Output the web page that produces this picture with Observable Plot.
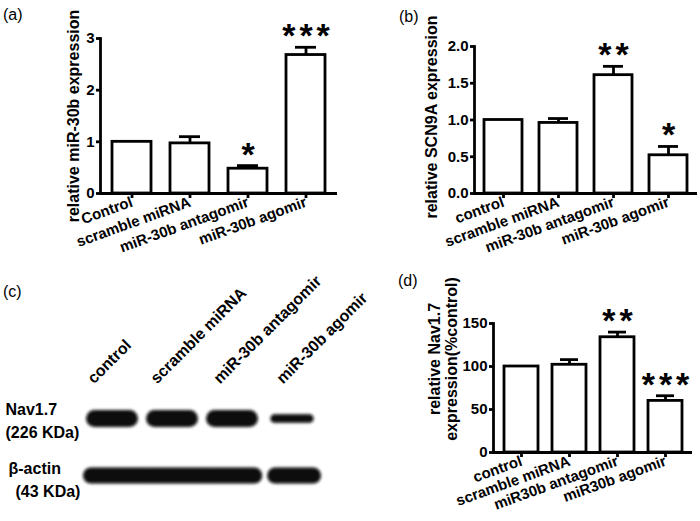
<!DOCTYPE html>
<html><head><meta charset="utf-8">
<script src="https://cdn.jsdelivr.net/npm/d3@7"></script>
<script src="https://cdn.jsdelivr.net/npm/@observablehq/plot@0.6"></script>
<style>
body{margin:0;background:#fff;}
#fig{position:relative;width:700px;height:521px;overflow:hidden;font-family:"Liberation Sans",Arial,sans-serif;background:#fff;}
.panel{position:absolute;}
.tag{position:absolute;font-size:16px;line-height:1;font-family:"Liberation Sans",Arial,sans-serif;}
</style></head><body><div id="fig"></div>
<script>
// Panel (a)
const catsA = ["Control","scramble miRNA","miR-30b antagomir","miR-30b agomir"];
const meanA = [1.00, 0.97, 0.48, 2.68];
const semA  = [0, 0.13, 0.06, 0.15];
const starsA = ["", "", "*", "***"];
const ticksA = [0, 1, 2, 3];
// Panel (b)
const catsB = ["control","scramble miRNA","miR-30b antagomir","miR-30b agomir"];
const meanB = [1.00, 0.96, 1.61, 0.52];
const semB  = [0, 0.06, 0.12, 0.12];
const starsB = ["", "", "**", "*"];
const ticksB = [0, 0.5, 1.0, 1.5, 2.0];
// Panel (d)
const catsD = ["control","scramble miRNA","miR30b antagomir","miR30b agomir"];
const meanD = [100, 102, 134, 60];
const semD  = [0, 6, 6, 6];
const starsD = ["", "", "**", "***"];
const ticksD = [0, 50, 100, 150];
// Panel (c) western blot
const lanesC = ["control","scramble miRNA","miR-30b antagomir","miR-30b agomir"];
const proteins = ["Nav1.7","β-actin"];
const navIntensity = [1.0, 1.0, 1.0, 0.5];
const actinIntensity = [1.0, 1.0, 1.0, 1.0];

const fig = document.getElementById("fig");
const svgStyle = {fontFamily:'"Liberation Sans", Arial, sans-serif', fontSize:"15px", fontWeight:"bold", overflow:"visible", background:"transparent"};
const SW = 2.8;

function place(el, left, top){ el.classList.add("panel"); el.style.left = left+"px"; el.style.top = top+"px"; fig.appendChild(el); }

function barPanel(o){
  const data = o.cats.map((c,i)=>({c, m:o.mean[i], e:o.mean[i]+o.sem[i], s:o.stars[i], err:o.sem[i]>0}));
  const svg = Plot.plot({
    width:o.width, height:o.height,
    marginLeft:o.ml, marginRight:o.mr, marginTop:o.mt, marginBottom:o.mb,
    style:svgStyle,
    x:{type:"band", domain:o.cats, paddingInner:o.pi, paddingOuter:o.po, axis:null},
    y:{domain:[0,o.ticks[o.ticks.length-1]], axis:null},
    marks:[
      Plot.barY(data,{x:"c", y:"m", fill:"white", stroke:"black", strokeWidth:SW}),
      Plot.ruleX(data.filter(d=>d.err),{x:"c", y1:"m", y2:"e", stroke:"black", strokeWidth:SW}),
      Plot.tickY(data.filter(d=>d.err),{x:"c", y:"e", stroke:"black", strokeWidth:SW, insetLeft:o.cap, insetRight:o.cap}),
      Plot.text(data.filter(d=>d.s),{x:"c", y:"e", text:"s", fontSize:34, lineAnchor:"bottom", dy:0, dx:2}),
      Plot.frame({anchor:"left", stroke:"black", strokeWidth:SW}),
      Plot.ruleY([0],{stroke:"black", strokeWidth:SW}),
      Plot.axisY({ticks:o.ticks, tickFormat:o.fmt, tickSize:4, tickPadding:2, strokeWidth:SW, label:null}),
      Plot.axisX({tickSize:5, tickRotate:-20, strokeWidth:SW, tickPadding:3, label:null}),
      Plot.text([o.title],{frameAnchor:"left", rotate:-90, textAnchor:"middle", lineAnchor:"middle", dx:o.tdx, dy:o.tdy, fontSize:16, lineHeight:1.06})
    ]
  });
  svg.querySelectorAll('g[font-size="34"] text').forEach(t=>{ t.style.letterSpacing = "4px"; });
  return svg;
}

place(barPanel({cats:catsA, mean:meanA, sem:semA, stars:starsA, ticks:ticksA, fmt:d3.format("d"),
  width:350, height:270, ml:100, mr:13, mt:38, mb:77, pi:0.32, po:0.18, cap:9,
  title:"relative miR-30b expression", tdx:-27, tdy:0}), 0, 0);

place(barPanel({cats:catsB, mean:meanB, sem:semB, stars:starsB, ticks:ticksB, fmt:d3.format(".1f"),
  width:350, height:270, ml:124, mr:3, mt:46, mb:77, pi:0.31, po:0.18, cap:9,
  title:"relative SCN9A expression", tdx:-43, tdy:-3}), 350, 0);

place(barPanel({cats:catsD, mean:meanD, sem:semD, stars:starsD, ticks:ticksD, fmt:d3.format("d"),
  width:350, height:251, ml:143, mr:8, mt:53, mb:69, pi:0.30, po:0.20, cap:8,
  title:"relative Nav1.7\nexpression(%control)", tdx:-50, tdy:-29}), 350, 270);

// Western blot panel
const nav = lanesC.map((n,i)=>({lane:i, p:proteins[0], v:navIntensity[i]}));
const actin = lanesC.map((n,i)=>({lane:i, p:proteins[1], v:actinIntensity[i]}));
const labels = lanesC.map((n,i)=>({lane:i, n}));
const blot = Plot.plot({
  width:350, height:251, marginLeft:5, marginRight:25, marginTop:148, marginBottom:46,
  style:svgStyle,
  x:{type:"linear", domain:[0,4], range:[85,325], axis:null},
  y:{type:"point", domain:proteins, padding:0, axis:null},
  marks:[
    Plot.ruleY(nav,{y:"p", x1:d=>d.lane+0.16, x2:d=>d.lane+0.74, strokeWidth:d=>17*d.v, stroke:"#080808", strokeLinecap:"round"}),
    Plot.ruleY(actin,{y:"p", x1:d=>d.lane+(d.lane<3?0.1:0.17), x2:d=>d.lane+(d.lane<2?1.05:(d.lane===2?0.82:0.8)), strokeWidth:d=>16*d.v, stroke:"#080808", strokeLinecap:"round"}),
    Plot.text(labels,{x:d=>d.lane*1.05+0.14, frameAnchor:"top", dy:-34, rotate:-45, textAnchor:"start", lineAnchor:"bottom", text:"n", fontSize:16}),
    Plot.text([proteins[0]],{y:d=>d, frameAnchor:"left", textAnchor:"start", dy:-9, fontSize:16}),
    Plot.text(["(226 KDa)"],{y:()=>proteins[0], frameAnchor:"left", textAnchor:"start", dy:14, fontSize:16}),
    Plot.text([proteins[1]],{y:d=>d, frameAnchor:"left", textAnchor:"start", dx:3, dy:-7, fontSize:16}),
    Plot.text(["(43 KDa)"],{y:()=>proteins[1], frameAnchor:"left", textAnchor:"start", dx:10, dy:16, fontSize:16})
  ]
});
(function(){
  const ns = "http://www.w3.org/2000/svg";
  const defs = document.createElementNS(ns, "defs");
  const f = document.createElementNS(ns, "filter");
  f.setAttribute("id", "blotBlur"); f.setAttribute("filterUnits", "userSpaceOnUse");
  f.setAttribute("x", "0"); f.setAttribute("y", "0"); f.setAttribute("width", "350"); f.setAttribute("height", "251");
  const g = document.createElementNS(ns, "feGaussianBlur"); g.setAttribute("stdDeviation", "1.7");
  f.appendChild(g); defs.appendChild(f); blot.insertBefore(defs, blot.firstChild);
  blot.querySelectorAll('g[aria-label="rule"]').forEach(el=>el.setAttribute("filter","url(#blotBlur)"));
})();
place(blot, 0, 270);

// panel tags
[["(a)",3,7],["(b)",399,9],["(c)",3,284],["(d)",398,273]].forEach(([t,x,y])=>{
  const s=document.createElement("div"); s.className="tag"; s.textContent=t; s.style.left=x+"px"; s.style.top=y+"px"; fig.appendChild(s);
});
</script></body></html>
